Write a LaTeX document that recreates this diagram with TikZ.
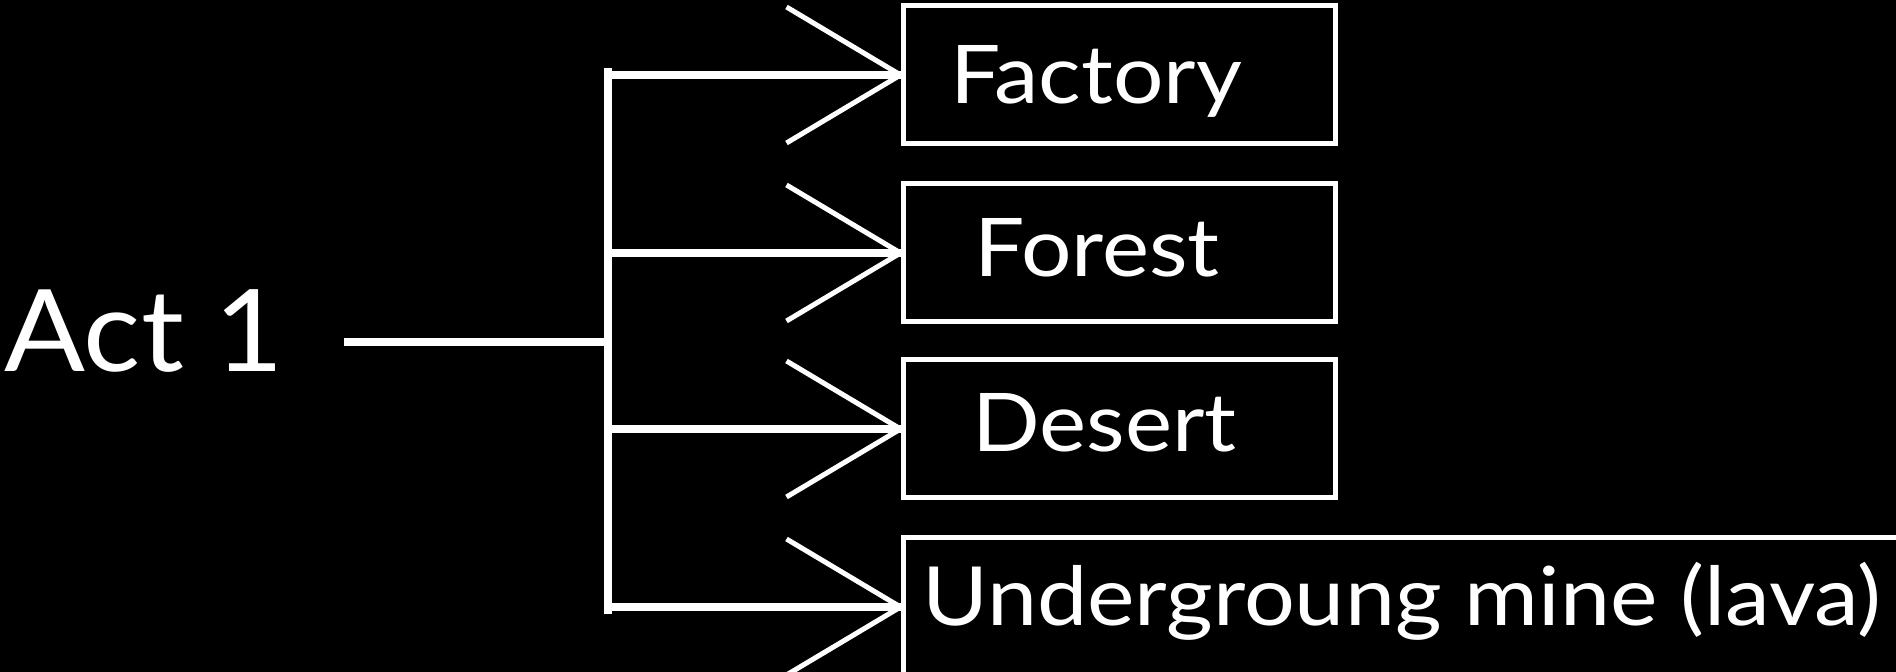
\documentclass[tikz,border=0pt]{standalone}
\usepackage{fontspec}
\setmainfont{Lato}[FakeStretch=1.1]
\newfontfamily\actfont{Lato}[FakeStretch=1.05]
\usetikzlibrary{arrows.meta}
\begin{document}
\begin{tikzpicture}[x=0.5pt,y=-0.5pt,
  wire/.style={draw=white, line width=4pt},
  arms/.style={draw=white, line width=2.5pt, line join=miter},
  box/.style={draw=white, line width=2.5pt, rectangle, inner sep=0pt, minimum height=69pt},
  lbl/.style={text=white, inner sep=0pt, anchor=base west, font=\fontsize{40.5}{45}\selectfont}
]
\fill[black] (0,0) rectangle (1896,672);
\useasboundingbox (0,0) rectangle (1896,672);
\clip (0,0) rectangle (1896,672);

\node[text=white, inner sep=0pt, anchor=base west, font=\actfont\fontsize{57}{62}\selectfont] (act) at (4,372) {Act 1};

\node[box, minimum width=216pt] (b1) at (1119,75) {};
\node[box, minimum width=216pt] (b2) at (1119,253) {};
\node[box, minimum width=216pt] (b3) at (1119,429) {};
\node[box, minimum width=530pt] (b4) at (1433,607) {};

\node[lbl] (t1) at (950,104) {Factory};
\node[lbl] (t2) at (974,277) {Forest};
\node[lbl] (t3) at (972,452) {Desert};
\node[lbl, font=\fontsize{40.8}{45}\selectfont] (t4) at (922,626) {Undergroung mine (lava)};

\coordinate (top) at (608,68);
\coordinate (bot) at (608,614);
\coordinate (j) at (608,342);

\draw[wire] (top) -- (bot);
\draw[wire, shorten <=30pt] (act.east |- j) -- (j);
\foreach \b in {b1,b2,b3,b4}{
  \draw[wire] (top |- \b.west) -- (\b.west);
  \draw[arms] (\b.west) ++(-114,-68) -- (\b.west) -- ++(-114,68);
}
\end{tikzpicture}
\end{document}
